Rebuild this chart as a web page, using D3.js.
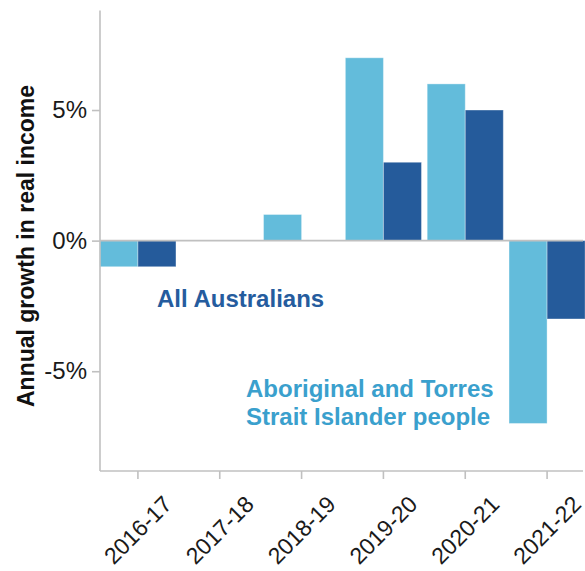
<!DOCTYPE html>
<html>
<head>
<meta charset="utf-8">
<script src="https://cdn.jsdelivr.net/npm/d3@7"></script>
<style>
  html, body { margin: 0; padding: 0; background: #fff; }
  svg { display: block; font-family: "Liberation Sans", Arial, Helvetica, sans-serif; }
</style>
</head>
<body>
<svg id="chart" width="585" height="571"></svg>
<script>
// Financial years on the x axis
const years = ["2016-17", "2017-18", "2018-19", "2019-20", "2020-21", "2021-22"];
// Series drawn side by side inside each year
const seriesKeys = ["indigenous", "all"];
// Annual growth in real income (%)
const indigenousGrowth = [-1, 0, 1, 7, 6, -7];
const allGrowth = [-1, 0, 0, 3, 5, -3];
// Y axis ticks and labels
const yTicks = [-5, 0, 5];
const yTickLabels = ["-5%", "0%", "5%"];

const colors = { indigenous: "#63BCDB", all: "#255B9B" };
const axisColor = "#C0C0C0";

const rows = years.map((yr, i) => ({ year: yr, indigenous: indigenousGrowth[i], all: allGrowth[i] }));

const svg = d3.select("#chart");
const plotLeft = 100, plotRight = 583, plotTop = 10.5, plotBottom = 471;

const x = d3.scaleBand().domain(years).range([97, 588]).paddingInner(0.07).paddingOuter(0.035);
const xInner = d3.scaleBand().domain(seriesKeys).range([0, x.bandwidth()]).padding(0);
const y = d3.scaleLinear().domain([-8.82, 8.81]).range([plotBottom, plotTop]);

// Bars
const groups = svg.append("g").selectAll("g")
  .data(rows).join("g")
  .attr("transform", d => `translate(${x(d.year)},0)`);

groups.selectAll("rect")
  .data(d => seriesKeys.map(k => ({ key: k, value: d[k] })))
  .join("rect")
  .attr("x", d => xInner(d.key))
  .attr("width", xInner.bandwidth())
  .attr("y", d => y(Math.max(0, d.value)))
  .attr("height", d => Math.abs(y(d.value) - y(0)))
  .attr("fill", d => colors[d.key])
  .attr("stroke", "#ffffff")
  .attr("stroke-opacity", 0.35)
  .attr("stroke-width", 1);

// Zero reference line
svg.append("line")
  .attr("x1", plotLeft).attr("x2", plotRight)
  .attr("y1", y(0)).attr("y2", y(0))
  .attr("stroke", axisColor).attr("stroke-width", 1.6);

// Y axis
const yAxis = svg.append("g")
  .attr("transform", `translate(${plotLeft},0)`)
  .call(d3.axisLeft(y).tickValues(yTicks).tickSize(8).tickPadding(5)
    .tickFormat((d, i) => yTickLabels[i]));
yAxis.select(".domain").remove();
yAxis.selectAll(".tick line").attr("stroke", axisColor).attr("stroke-width", 1.6);
yAxis.selectAll(".tick text")
  .attr("font-size", 24).attr("fill", "#1a1a1a")
  .attr("font-family", "Liberation Sans, Arial, sans-serif");
svg.append("line")
  .attr("x1", plotLeft).attr("x2", plotLeft).attr("y1", plotTop).attr("y2", plotBottom)
  .attr("stroke", axisColor).attr("stroke-width", 1.6);

// X axis
const xAxis = svg.append("g")
  .attr("transform", `translate(0,${plotBottom})`)
  .call(d3.axisBottom(x).tickSize(8).tickSizeOuter(0));
xAxis.select(".domain").remove();
xAxis.selectAll(".tick line").attr("stroke", axisColor).attr("stroke-width", 1.6);
xAxis.selectAll(".tick text")
  .attr("font-size", 23).attr("fill", "#1a1a1a")
  .attr("font-family", "Liberation Sans, Arial, sans-serif")
  .attr("text-anchor", "middle")
  .attr("dy", null)
  .attr("y", 0)
  .attr("dominant-baseline", "central")
  .attr("transform", "translate(0,59) rotate(-45)");
svg.append("line")
  .attr("x1", plotLeft).attr("x2", plotRight).attr("y1", plotBottom).attr("y2", plotBottom)
  .attr("stroke", axisColor).attr("stroke-width", 1.6);

// Y axis title
svg.append("text")
  .attr("transform", "translate(34,246) rotate(-90)")
  .attr("text-anchor", "middle")
  .attr("font-size", 23).attr("font-weight", "bold").attr("fill", "#111")
  .text("Annual growth in real income");

// Series labels
svg.append("text")
  .attr("x", 157).attr("y", 306.5)
  .attr("font-size", 24).attr("font-weight", "bold").attr("fill", "#255C9E")
  .text("All Australians");

const indLabel = svg.append("text")
  .attr("x", 246).attr("y", 396.5)
  .attr("font-size", 24).attr("font-weight", "bold").attr("fill", "#3AA0CD");
indLabel.append("tspan").attr("x", 246).text("Aboriginal and Torres");
indLabel.append("tspan").attr("x", 246).attr("dy", 28.5).text("Strait Islander people");
</script>
</body>
</html>
